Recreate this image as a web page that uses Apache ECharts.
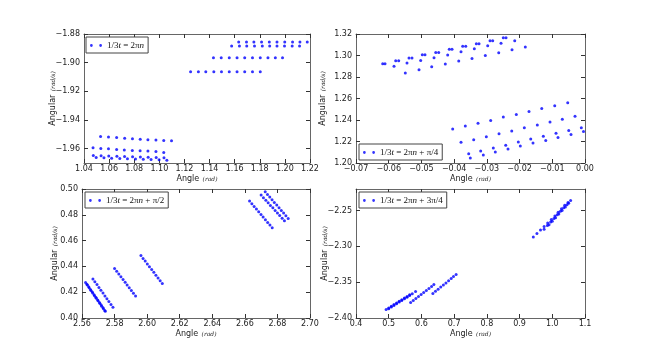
<!DOCTYPE html>
<html>
<head>
<meta charset="utf-8">
<script src="https://cdn.jsdelivr.net/npm/echarts@6/dist/echarts.min.js"></script>
<style>
  html, body { margin: 0; padding: 0; background: #fff; }
  #chart { width: 650px; height: 353px; }
</style>
</head>
<body>
<div id="chart"></div>
<script>
// panel 1: 1/3t = 2πn
const p1Points = [
  [1.1632,-1.8856],[1.1694,-1.8856],[1.1753,-1.8856],[1.1814,-1.8856],[1.1876,-1.8856],
  [1.1937,-1.8856],[1.1999,-1.8856],[1.2061,-1.8856],[1.2120,-1.8856],[1.2178,-1.8856],
  [1.1576,-1.8884],[1.1638,-1.8884],[1.1696,-1.8884],[1.1758,-1.8884],[1.1820,-1.8884],
  [1.1879,-1.8884],[1.1937,-1.8884],[1.1997,-1.8884],[1.2058,-1.8884],[1.2117,-1.8884],
  [1.1431,-1.8965],[1.1493,-1.8965],[1.1557,-1.8965],[1.1619,-1.8965],[1.1680,-1.8965],
  [1.1742,-1.8965],[1.1804,-1.8965],[1.1865,-1.8965],[1.1924,-1.8965],[1.1981,-1.8965],
  [1.1249,-1.9063],[1.1311,-1.9063],[1.1370,-1.9063],[1.1434,-1.9063],[1.1495,-1.9063],
  [1.1557,-1.9063],[1.1619,-1.9063],[1.1680,-1.9063],[1.1742,-1.9063],[1.1804,-1.9063],
  [1.0532,-1.9515],[1.0595,-1.9518],[1.0660,-1.9522],[1.0724,-1.9527],[1.0786,-1.9530],
  [1.0848,-1.9535],[1.0909,-1.9538],[1.0973,-1.9540],[1.1035,-1.9543],[1.1097,-1.9545],
  [1.0472,-1.9594],[1.0534,-1.9598],[1.0595,-1.9601],[1.0660,-1.9605],[1.0721,-1.9610],
  [1.0785,-1.9612],[1.0847,-1.9615],[1.0909,-1.9617],[1.0973,-1.9620],[1.1035,-1.9627],
  [1.0474,-1.9647],[1.0536,-1.9649],[1.0597,-1.9651],[1.0662,-1.9653],[1.0723,-1.9655],
  [1.0787,-1.9657],[1.0849,-1.9659],[1.0911,-1.9660],[1.0975,-1.9662],[1.1037,-1.9663],
  [1.0497,-1.9661],[1.0559,-1.9663],[1.0620,-1.9666],[1.0685,-1.9668],[1.0746,-1.9670],
  [1.0810,-1.9672],[1.0872,-1.9674],[1.0934,-1.9676],[1.0998,-1.9678],[1.1060,-1.9681]
];

// panel 2: 1/3t = 2πn + π/4
const p2Points = [
  [-0.06184,1.2924],[-0.06113,1.2924],[-0.05786,1.2952],[-0.05695,1.2952],
  [-0.05380,1.2977],[-0.05288,1.2977],[-0.04973,1.3007],[-0.04891,1.3007],
  [-0.04563,1.3029],[-0.04472,1.3029],[-0.04148,1.3057],[-0.04065,1.3057],
  [-0.03738,1.3085],[-0.03646,1.3085],[-0.03322,1.3110],[-0.03240,1.3110],
  [-0.02903,1.3138],[-0.02821,1.3138],[-0.02497,1.3166],[-0.02414,1.3166],
  [-0.05838,1.2899],[-0.05441,1.2930],[-0.05022,1.2954],[-0.04615,1.2980],[-0.04197,1.3005],
  [-0.03790,1.3035],[-0.03383,1.3063],[-0.02974,1.3091],[-0.02567,1.3113],[-0.02148,1.3138],
  [-0.05493,1.2837],[-0.05074,1.2868],[-0.04686,1.2896],[-0.04270,1.2921],[-0.03860,1.2949],
  [-0.03454,1.2973],[-0.03047,1.3001],[-0.02637,1.3026],[-0.02231,1.3054],[-0.01824,1.3079],
  [-0.04044,1.2316],[-0.03658,1.2344],[-0.03270,1.2369],[-0.02882,1.2396],[-0.02497,1.2428],
  [-0.02099,1.2452],[-0.01711,1.2480],[-0.01323,1.2508],[-0.00925,1.2533],[-0.00528,1.2561],
  [-0.03790,1.2192],[-0.03402,1.2217],[-0.03016,1.2245],[-0.02628,1.2273],[-0.02240,1.2298],
  [-0.01855,1.2329],[-0.01457,1.2354],[-0.01069,1.2382],[-0.00693,1.2406],[-0.00305,1.2434],
  [-0.03555,1.2087],[-0.03188,1.2112],[-0.02803,1.2140],[-0.02423,1.2164],[-0.02038,1.2196],
  [-0.01659,1.2224],[-0.01274,1.2248],[-0.00886,1.2276],[-0.00497,1.2303],[-0.00112,1.2329],
  [-0.03506,1.2047],[-0.03108,1.2075],[-0.02741,1.2103],[-0.02353,1.2131],[-0.01977,1.2158],
  [-0.01589,1.2186],[-0.01200,1.2210],[-0.00825,1.2238],[-0.00427,1.2266],[-0.00046,1.2294]
];

// panel 3: 1/3t = 2πn + π/2
const p3Points = [
  [2.5622,0.4275],[2.5633,0.4255],[2.5644,0.4234],[2.5655,0.4214],[2.5666,0.4194],[2.5677,0.4173],
  [2.5688,0.4153],[2.5699,0.4133],[2.5710,0.4113],[2.5721,0.4092],[2.5732,0.4072],[2.5743,0.4052],
  [2.5630,0.4262],[2.5641,0.4242],[2.5652,0.4221],[2.5663,0.4201],[2.5674,0.4181],[2.5685,0.4160],
  [2.5696,0.4140],[2.5707,0.4120],[2.5718,0.4100],[2.5729,0.4079],[2.5740,0.4059],
  [2.5667,0.4303],[2.5679,0.4281],[2.5692,0.4259],[2.5704,0.4237],[2.5716,0.4215],[2.5729,0.4193],
  [2.5741,0.4171],[2.5753,0.4149],[2.5765,0.4127],[2.5778,0.4105],[2.5790,0.4083],
  [2.5800,0.4383],[2.5813,0.4362],[2.5826,0.4341],[2.5839,0.4319],[2.5852,0.4298],[2.5865,0.4277],
  [2.5877,0.4256],[2.5890,0.4235],[2.5903,0.4213],[2.5916,0.4192],[2.5929,0.4171],
  [2.5962,0.4484],[2.5975,0.4462],[2.5988,0.4441],[2.6001,0.4419],[2.6014,0.4397],[2.6028,0.4376],
  [2.6041,0.4354],[2.6054,0.4332],[2.6067,0.4310],[2.6080,0.4289],[2.6093,0.4267],
  [2.6629,0.4907],[2.6643,0.4886],[2.6657,0.4865],[2.6671,0.4845],[2.6685,0.4824],[2.6699,0.4803],
  [2.6712,0.4782],[2.6726,0.4761],[2.6740,0.4741],[2.6754,0.4720],[2.6768,0.4699],
  [2.6700,0.4953],[2.6714,0.4933],[2.6729,0.4913],[2.6743,0.4893],[2.6757,0.4873],[2.6772,0.4854],
  [2.6786,0.4834],[2.6800,0.4814],[2.6814,0.4794],[2.6829,0.4774],[2.6843,0.4754],
  [2.6725,0.4979],[2.6739,0.4958],[2.6753,0.4938],[2.6767,0.4917],[2.6781,0.4896],[2.6796,0.4876],
  [2.6810,0.4855],[2.6824,0.4834],[2.6838,0.4813],[2.6852,0.4793],[2.6866,0.4772]
];

// panel 4: 1/3t = 2πn + 3π/4
const p4Points = [
  [0.492,-2.3882],[0.500,-2.3859],[0.508,-2.3836],[0.516,-2.3813],[0.524,-2.3790],[0.532,-2.3768],
  [0.540,-2.3745],[0.548,-2.3722],[0.556,-2.3699],[0.564,-2.3676],
  [0.500,-2.3870],[0.508,-2.3847],[0.516,-2.3824],[0.524,-2.3801],[0.532,-2.3778],[0.540,-2.3755],
  [0.548,-2.3732],[0.556,-2.3709],[0.564,-2.3686],[0.572,-2.3663],[0.582,-2.3630],
  [0.567,-2.3784],[0.575,-2.3756],[0.583,-2.3728],[0.591,-2.3700],[0.599,-2.3672],[0.607,-2.3644],
  [0.615,-2.3616],[0.623,-2.3588],[0.631,-2.3560],[0.638,-2.3532],
  [0.635,-2.3658],[0.643,-2.3628],[0.651,-2.3598],[0.659,-2.3569],[0.667,-2.3539],[0.675,-2.3510],
  [0.683,-2.3480],[0.691,-2.3450],[0.698,-2.3421],[0.706,-2.3392],
  [0.942,-2.2869],[0.953,-2.2820],[0.964,-2.2771],[0.975,-2.2722],[0.986,-2.2673],[0.997,-2.2624],
  [1.008,-2.2575],[1.018,-2.2526],[1.028,-2.2477],[1.038,-2.2428],[1.048,-2.2390],[1.056,-2.2360],
  [0.975,-2.2760],[0.985,-2.2710],[0.995,-2.2660],[1.005,-2.2610],[1.015,-2.2560],[1.025,-2.2510],
  [1.035,-2.2460],[1.045,-2.2420],
  [0.990,-2.2700],[1.000,-2.2650],[1.010,-2.2600],[1.020,-2.2550],[1.030,-2.2500],[1.040,-2.2450],
  [1.050,-2.2400]
];

const p1XTicks = [1.04,1.06,1.08,1.10,1.12,1.14,1.16,1.18,1.20,1.22];
const p1YTicks = [-1.96,-1.94,-1.92,-1.90,-1.88];
const p2XTicks = [-0.07,-0.06,-0.05,-0.04,-0.03,-0.02,-0.01,0.00];
const p2YTicks = [1.20,1.22,1.24,1.26,1.28,1.30,1.32];
const p3XTicks = [2.56,2.58,2.60,2.62,2.64,2.66,2.68,2.70];
const p3YTicks = [0.40,0.42,0.44,0.46,0.48,0.50];
const p4XTicks = [0.4,0.5,0.6,0.7,0.8,0.9,1.0,1.1];
const p4YTicks = [-2.40,-2.35,-2.30,-2.25];

const seriesNames = ['1/3t=2πn', '1/3t=2πn+π/4', '1/3t=2πn+π/2', '1/3t=2πn+3π/4'];
const legendLabels = [
  '1/3{i|t} = 2π{i|n}',
  '1/3{i|t} = 2π{i|n} + π/4',
  '1/3{i|t} = 2π{i|n} + π/2',
  '1/3{i|t} = 2π{i|n} + 3π/4'
];

const fmt = (d) => (v) => (v < 0 ? '\u2212' : '') + Math.abs(v).toFixed(d);

const panels = [
  { grid: { left: 84, top: 34, width: 226, height: 129 }, x: [1.04, 1.22, p1XTicks, 2], y: [-1.97, -1.88, p1YTicks, 2], data: p1Points, gapY: 25 },
  { grid: { left: 356, top: 34, width: 229, height: 129 }, x: [-0.07, 0, p2XTicks, 2], y: [1.20, 1.32, p2YTicks, 2], data: p2Points, gapY: 27 },
  { grid: { left: 82, top: 189, width: 228, height: 129 }, x: [2.56, 2.70, p3XTicks, 2], y: [0.40, 0.50, p3YTicks, 2], data: p3Points, gapY: 21 },
  { grid: { left: 356, top: 189, width: 229, height: 129 }, x: [0.4, 1.1, p4XTicks, 1], y: [-2.40, -2.22, p4YTicks, 2], data: p4Points, gapY: 25 }
];

const frame = { show: true, onZero: false, lineStyle: { color: '#666', width: 1 } };
const labelStyle = { color: '#222', fontSize: 8, fontFamily: 'DejaVu Sans' };
const nameRich = {
  a: { fontSize: 8, color: '#222', fontFamily: 'DejaVu Sans' },
  m: { fontSize: 6, color: '#222', fontFamily: 'DejaVu Serif', fontStyle: 'italic' }
};

const grid = [], xAxis = [], yAxis = [], series = [];
panels.forEach((p, i) => {
  grid.push(p.grid);
  const [xmin, xmax, xt, xd] = p.x;
  const [ymin, ymax, yt, yd] = p.y;
  xAxis.push({
    type: 'value', gridIndex: i, min: xmin, max: xmax, position: 'bottom',
    axisLine: frame, splitLine: { show: false },
    axisTick: { inside: true, length: 4, customValues: xt, lineStyle: { color: '#333' } },
    axisLabel: { ...labelStyle, margin: 2, customValues: xt, formatter: fmt(xd) },
    name: '{a|Angle} {m|(rad)}', nameLocation: 'middle', nameGap: 10, nameMoveOverlap: false,
    nameTextStyle: { rich: nameRich }
  });
  xAxis.push({
    type: 'value', gridIndex: i, min: xmin, max: xmax, position: 'top',
    axisLine: frame, splitLine: { show: false },
    axisTick: { inside: true, length: 4, customValues: xt, lineStyle: { color: '#333' } },
    axisLabel: { show: false }
  });
  yAxis.push({
    type: 'value', gridIndex: i, min: ymin, max: ymax, position: 'left',
    axisLine: frame, splitLine: { show: false },
    axisTick: { inside: true, length: 4, customValues: yt, lineStyle: { color: '#333' } },
    axisLabel: { ...labelStyle, margin: 4, customValues: yt, formatter: fmt(yd) },
    name: '{a|Angular} {m|(rad/s)}', nameLocation: 'middle', nameGap: p.gapY, nameMoveOverlap: false,
    nameTextStyle: { rich: nameRich }
  });
  yAxis.push({
    type: 'value', gridIndex: i, min: ymin, max: ymax, position: 'right',
    axisLine: frame, splitLine: { show: false },
    axisTick: { inside: true, length: 4, customValues: yt, lineStyle: { color: '#333' } },
    axisLabel: { show: false }
  });
  series.push({
    name: seriesNames[i], type: 'scatter',
    xAxisIndex: 2 * i, yAxisIndex: 2 * i,
    data: p.data, symbol: 'circle', symbolSize: 3,
    itemStyle: { color: '#0000ff' }, silent: true
  });
});

const twoDots = 'path://M0.5,2a1.5,1.5 0 1,0 3,0a1.5,1.5 0 1,0 -3,0M10.5,2a1.5,1.5 0 1,0 3,0a1.5,1.5 0 1,0 -3,0';
const legendPos = [
  { left: 86, top: 37 },
  { left: 359, top: 144 },
  { left: 85, top: 192 },
  { left: 359, top: 192 }
];
const legend = legendPos.map((pos, i) => ({
  ...pos,
  data: [seriesNames[i]],
  icon: twoDots, itemWidth: 12, itemHeight: 3, itemGap: 0,
  borderColor: '#444', borderWidth: 1, borderRadius: 0,
  padding: [4, 4, 3, 4], backgroundColor: '#fff',
  selectedMode: false,
  formatter: () => legendLabels[i],
  textStyle: {
    fontSize: 9, color: '#111', fontFamily: 'Liberation Serif',
    rich: { i: { fontSize: 9, fontStyle: 'italic', fontFamily: 'Liberation Serif', color: '#111' } }
  }
}));

const chart = echarts.init(document.getElementById('chart'), null, { renderer: 'canvas' });
chart.setOption({
  animation: false,
  backgroundColor: '#fff',
  grid, xAxis, yAxis, series, legend
});
</script>
</body>
</html>
